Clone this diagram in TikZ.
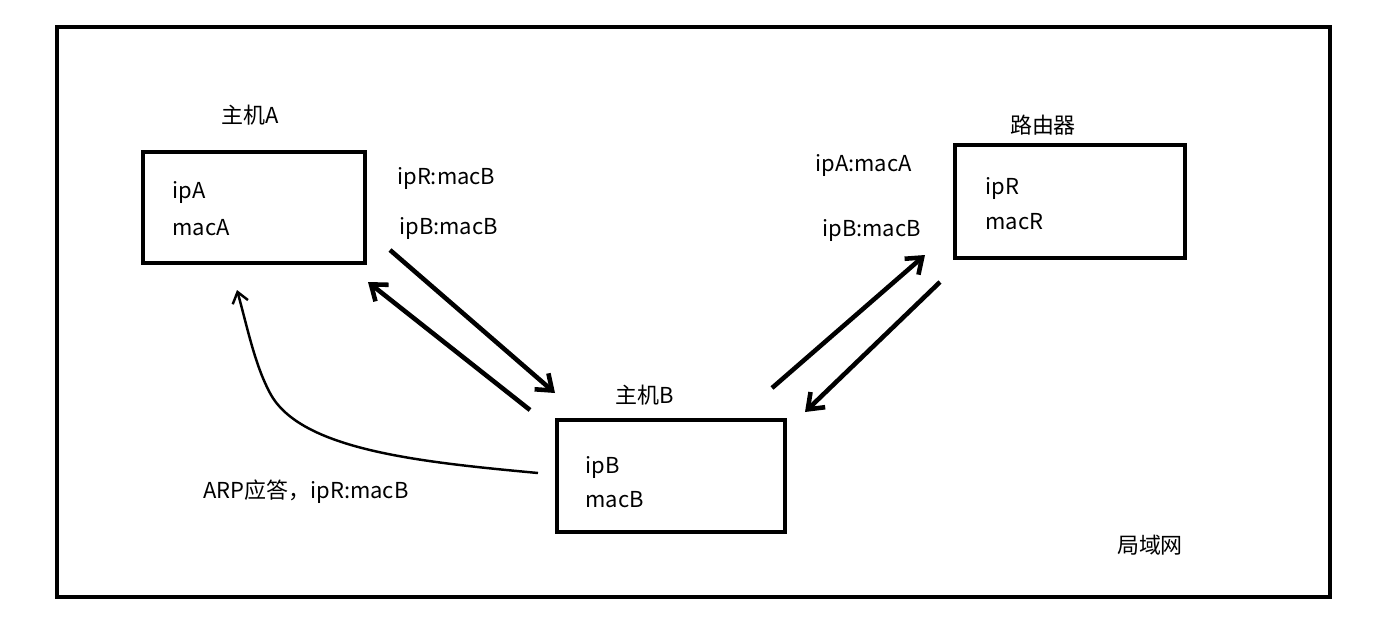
\documentclass[tikz,border=0pt]{standalone}
\usepackage{fontspec}
\setmainfont{Noto Sans CJK SC}
\usetikzlibrary{arrows.meta}

\begin{document}
\begin{tikzpicture}[x=0.02cm,y=-0.02cm,font=\fontsize{12.5}{15}\selectfont]
			%\draw[help lines] (0,0) grid (1382,616);
			\tikzstyle{host}=[draw,line width=2.8pt,rectangle,inner sep=0pt]
			\tikzstyle{txt}=[inner sep=0pt,anchor=west]
			\tikzstyle{msg}=[line width=2.6pt,-{Straight Barb[length=8pt,width=12pt,line width=2.6pt]}]
			\useasboundingbox (0,0) rectangle (1382,616);
			
			%% LAN frame
			\draw [line width=2.3pt] (57,27) rectangle (1330,597);
			\node [inner sep=0pt] (lan) at (1150,545) {局域网};
			
			%% Hosts
			\node [host,minimum width=4.44cm,minimum height=2.22cm] (ha) at (254,207.5) {};
			\node [host,minimum width=4.6cm,minimum height=2.26cm] (rt) at (1070,201.5) {};
			\node [host,minimum width=4.56cm,minimum height=2.24cm] (hb) at (671,476) {};
			
			\node [inner sep=0pt] (ta) at (250,115) {主机A};
			\node [inner sep=0pt] (trt) at (1043,125) {路由器};
			\node [inner sep=0pt] (tb) at (645,395) {主机B};
			
			\node [txt] (ipa) at (172,192) {ipA};
			\node [txt] (maca) at (172,228) {macA};
			\node [txt] (ipr) at (985,188) {ipR};
			\node [txt] (macr) at (985,222) {macR};
			\node [txt] (ipb) at (585,467) {ipB};
			\node [txt] (macb) at (585,500) {macB};
			
			%% Messages
			\coordinate (a1) at (390,250); \coordinate (b1) at (555,393);
			\coordinate (b2) at (530,410); \coordinate (a2) at (368,282);
			\coordinate (b3) at (772,388); \coordinate (r3) at (925,255);
			\coordinate (r4) at (940,282); \coordinate (b4) at (805,412);
			\draw [msg] (a1) -- (b1);
			\draw [msg] (b2) -- (a2);
			\draw [msg] (b3) -- (r3);
			\draw [msg] (r4) -- (b4);
			
			\node [txt] (m1) at (397,178) {ipR:macB};
			\node [txt] (m2) at (399,228) {ipB:macB};
			\node [txt] (m3) at (815,165) {ipA:macA};
			\node [txt] (m4) at (822,230) {ipB:macB};
			
			%% ARP reply
			\coordinate (c0) at (538,473);
			\coordinate (c1) at (237,290);
			\draw [line width=1.4pt,-{Straight Barb[length=6pt,width=9pt,line width=1.4pt]}]
				(c0) .. controls (420,462) and (300,450) .. (270,393)
				.. controls (255,365) and (248,330) .. (c1);
			\node [txt] (arp) at (203,492) {ARP应答，ipR:macB};
			
		\end{tikzpicture}
\end{document}
